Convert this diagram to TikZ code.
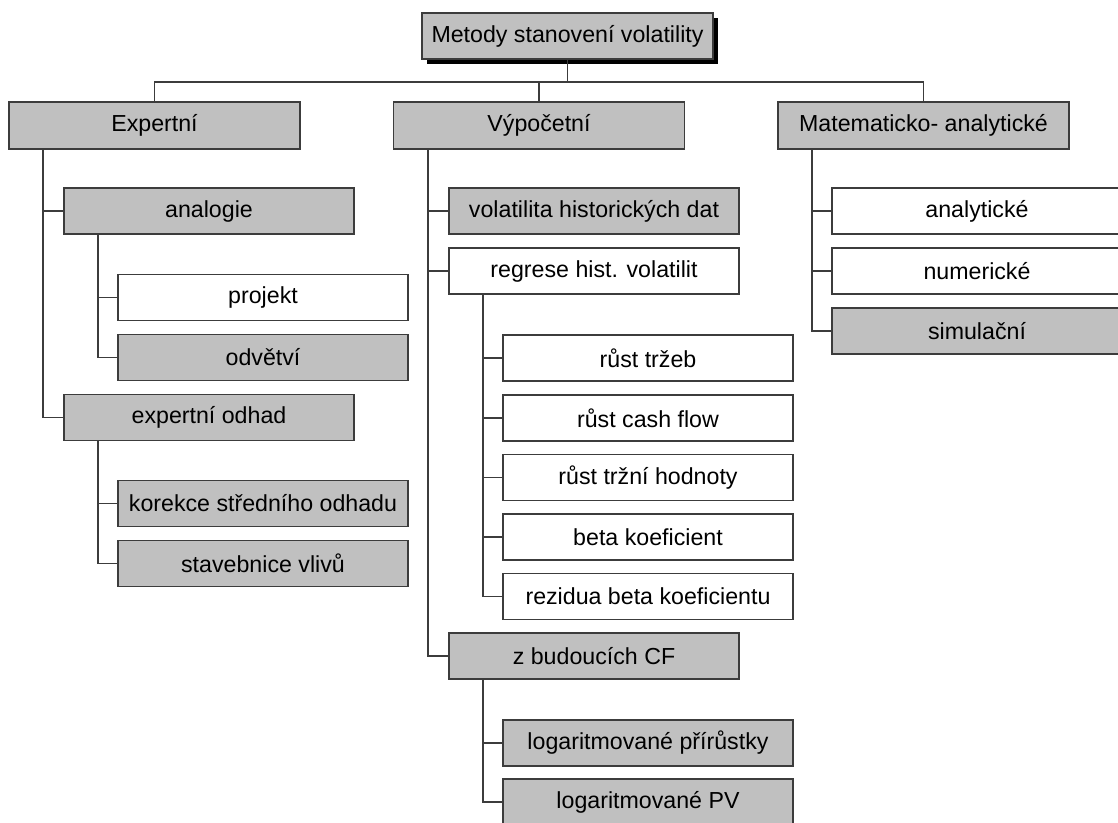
\documentclass[tikz,border=0pt]{standalone}
\usepackage{fontspec}
\setmainfont{Liberation Sans}
\usetikzlibrary{shadows}
\definecolor{boxgray}{HTML}{C0C0C0}
\definecolor{linegray}{HTML}{3C3C3C}
\tikzset{
	gbox/.style={draw=linegray, line width=1pt, fill=boxgray, minimum width=5.8cm, minimum height=0.92cm, inner sep=0pt, font=\fontsize{13.2}{15}\selectfont},
	wbox/.style={gbox, fill=white},
	topbox/.style={gbox, minimum width=5.82cm, minimum height=0.94cm},
	conn/.style={draw=linegray, line width=1pt}
}

\begin{document}
\begin{tikzpicture}[x=0.02cm, y=-0.02cm]
	\useasboundingbox (0,0) rectangle (1118,822);
	\node[gbox, minimum width=5.82cm, drop shadow={shadow xshift=0.1cm, shadow yshift=-0.1cm, fill=black, opacity=1}] (root) at (567.5,36){Metody stanovení volatility};
	\coordinate (bus) at (0,82);
	\node[topbox] (expert) at (154.5,125.5){Expertní};
	\node[topbox] (vyp) at (539,125.5){Výpočetní};
	\node[topbox] (mat) at (923.5,125.5){Matematicko- analytické};
	% expertni
	\node[gbox] (analogie) at (209,211){analogie};
	\node[wbox] (projekt) at (263,297.5){projekt};
	\node[gbox] (odvetvi) at (263,357.5){odvětví};
	\node[gbox] (odhad) at (209,417.5){expertní odhad};
	\node[gbox] (korekce) at (263,503.5){korekce středního odhadu};
	\node[gbox] (stavebnice) at (263,563.5){stavebnice vlivů};
	% vypocetni
	\node[gbox] (histdat) at (594,211){volatilita historických dat};
	\node[wbox] (regrese) at (594,271){regrese hist. volatilit};
	\node[wbox] (trzeb) at (648,358){růst tržeb};
	\node[wbox] (cashflow) at (648,418){růst cash flow};
	\node[wbox] (trzni) at (648,477.5){růst tržní hodnoty};
	\node[wbox] (beta) at (648,537){beta koeficient};
	\node[wbox] (rezidua) at (648,596.5){rezidua beta koeficientu};
	\node[gbox] (budouci) at (594,656){z budoucích CF};
	\node[gbox] (prirustky) at (648,743){logaritmované přírůstky};
	\node[gbox] (logpv) at (648,802){logaritmované PV};
	% matematicko-analyticke
	\node[wbox] (analyticke) at (977,211){analytické};
	\node[wbox] (numericke) at (977,271){numerické};
	\node[gbox] (simulacni) at (977,331){simulační};
	% spojnice
	\draw[conn] (root.south) -- (root.south |- bus);
	\draw[conn] (expert.north) -- (expert.north |- bus) -- (mat.north |- bus) -- (mat.north);
	\draw[conn] (vyp.north) -- (vyp.north |- bus);
	\foreach \p/\c in {expert/analogie, expert/odhad, analogie/projekt, analogie/odvetvi, odhad/korekce, odhad/stavebnice, vyp/histdat, vyp/regrese, vyp/budouci, regrese/trzeb, regrese/cashflow, regrese/trzni, regrese/beta, regrese/rezidua, budouci/prirustky, budouci/logpv, mat/analyticke, mat/numericke, mat/simulacni}
		\draw[conn] ([xshift=0.7cm]\p.south west) |- (\c.west);
\end{tikzpicture}
\end{document}
